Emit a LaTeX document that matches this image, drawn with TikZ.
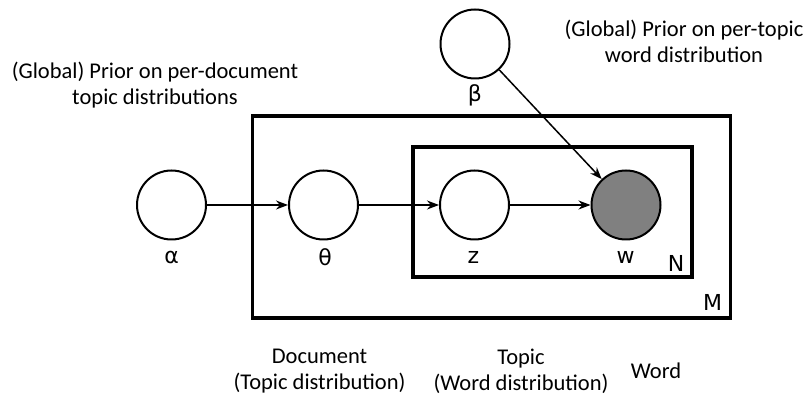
\documentclass[tikz,border=0pt]{standalone}
\usepackage{fontspec}
\setmainfont{Carlito}
\newfontfamily\varfont{DejaVu Sans}
\usetikzlibrary{arrows.meta}

\definecolor{obsgray}{RGB}{128,128,128}

\begin{document}
\begin{tikzpicture}[x=1pt,y=-1pt,
  var/.style={circle, draw, line width=2pt, minimum size=69pt, inner sep=0pt, fill=white},
  obs/.style={var, fill=obsgray},
  plate/.style={draw, line width=3.5pt},
  lbl/.style={font=\varfont\fontsize{22}{26}\selectfont, inner sep=0pt},
  note/.style={font=\fontsize{22.5}{26}\selectfont, align=center, inner sep=0pt},
  edge/.style={-{Stealth[length=12pt,width=9pt]}, line width=1.5pt}
]
\useasboundingbox (0,0) rectangle (809,395);

% plates: M documents, N words per document
\draw[plate] (252.5,116) rectangle (730.5,318);
\draw[plate] (413,147) rectangle (692,277);

% random variables
\node[var] (alpha) at (171.5,205) {};
\node[var] (theta) at (323.5,205) {};
\node[var] (z)     at (474.5,205) {};
\node[obs] (w)     at (626,205) {};
\node[var] (beta)  at (475,44) {};

% variable labels
\node[lbl] (lalpha) at (171.5,257) {α};
\node[lbl] (ltheta) at (325,257) {θ};
\node[lbl] (lz)     at (473.5,257) {z};
\node[lbl] (lw)     at (625.5,257) {w};
\node[lbl] (lbeta)  at (475,95) {β};
\node[lbl] (lN)     at (676,263) {N};
\node[lbl] (lM)     at (712.5,302) {M};

% dependencies
\draw[edge] (alpha) -- (theta);
\draw[edge] (theta) -- (z);
\draw[edge] (z) -- (w);
\draw[edge] (beta) -- (w);

% annotations
\node[note] (priora) at (155,85) {(Global) Prior on per-document\\topic distributions};
\node[note] (priorb) at (684,41) {(Global) Prior on per-topic\\word distribution};
\node[note] (doc)    at (319.5,371) {Document\\(Topic distribution)};
\node[note] (topic)  at (521,371) {Topic\\(Word distribution)};
\node[note] (word)   at (656,371) {Word};
\end{tikzpicture}
\end{document}
